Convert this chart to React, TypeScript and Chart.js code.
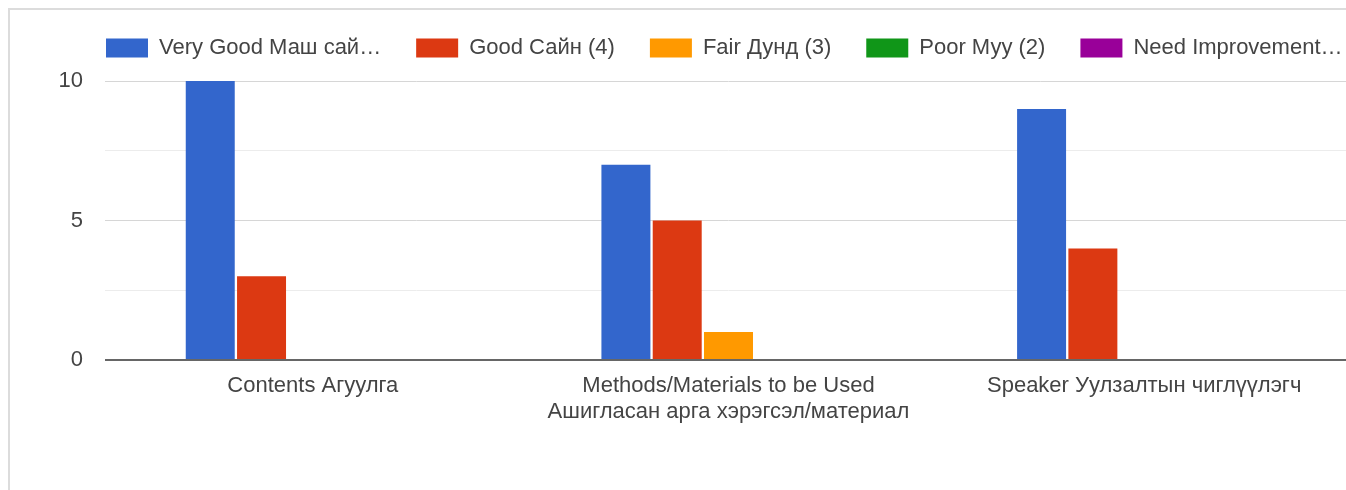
import React, { useEffect, useRef } from "react";
import { Chart, registerables } from "chart.js";

Chart.register(...registerables);

const categories: (string | string[])[] = [
  "Contents Агуулга",
  ["Methods/Materials to be Used", "Ашигласан арга хэрэгсэл/материал"],
  "Speaker Уулзалтын чиглүүлэгч",
];

const seriesLabels = [
  "Very Good Маш сай…",
  "Good Сайн (4)",
  "Fair Дунд (3)",
  "Poor Муу (2)",
  "Need Improvement…",
];

const veryGood = [10, 7, 9];
const good = [3, 5, 4];
const fair = [0, 1, 0];
const poor = [0, 0, 0];
const needImprovement = [0, 0, 0];

const seriesColors = ["#3366cc", "#dc3912", "#ff9900", "#109618", "#990099"];

const yTicks = [0, 5, 10];

const CANVAS_W = 1440;
const CANVAS_H = 490;
const PAD_LEFT = 40;
const LEGEND_PAD = 35;
const LEGEND_START = 106;

const legendShift = {
  id: "legendShift",
  afterLayout(chart: any) {
    const lg = chart.legend;
    if (!lg) return;
    const dx = LEGEND_START - (lg.left + LEGEND_PAD);
    lg.left += dx;
    lg.right += dx;
  },
};

export default function App() {
  const ref = useRef<HTMLCanvasElement | null>(null);

  useEffect(() => {
    if (!ref.current) return;
    const values = [veryGood, good, fair, poor, needImprovement];
    const font = { family: "'Liberation Sans', Arial, sans-serif", size: 22 };
    const chart = new Chart(ref.current, {
      type: "bar",
      data: {
        labels: categories,
        datasets: values.map((v, i) => ({
          label: seriesLabels[i],
          data: v,
          backgroundColor: seriesColors[i],
          borderWidth: 0,
          categoryPercentage: 0.617,
          barPercentage: 0.955,
          xAxisID: "x",
          yAxisID: "y",
        })),
      },
      plugins: [legendShift],
      options: {
        responsive: false,
        animation: false,
        devicePixelRatio: 1,
        layout: { padding: { left: PAD_LEFT, top: 2, right: 0, bottom: 0 } },
        font,
        plugins: {
          tooltip: { enabled: false },
          legend: {
            display: true,
            position: "top",
            align: "start",
            labels: {
              boxWidth: 42,
              boxHeight: 19,
              padding: LEGEND_PAD,
              color: "#444",
              font,
            },
          },
        },
        scales: {
          x: {
            type: "category",
            position: "bottom",
            offset: true,
            grid: { display: false, drawTicks: false },
            border: { display: false },
            ticks: {
              color: "#444",
              padding: 13,
              maxRotation: 0,
              minRotation: 0,
              autoSkip: false,
              font: { ...font, lineHeight: 1.17 },
            },
            afterFit: (s: any) => {
              s.height = 130;
            },
          },
          xTop: {
            type: "linear",
            position: "top",
            display: true,
            grid: { display: false, drawTicks: false },
            border: { display: false },
            ticks: { display: false },
            afterFit: (s: any) => {
              s.height = 12;
            },
          },
          yRight: {
            type: "linear",
            position: "right",
            display: true,
            grid: { display: false, drawTicks: false },
            border: { display: false },
            ticks: { display: false },
            afterFit: (s: any) => {
              s.width = CANVAS_W - 1352;
            },
          },
          y: {
            type: "linear",
            position: "left",
            min: 0,
            max: 10,
            border: { display: false },
            grid: {
              drawTicks: false,
              color: (ctx: any) => {
                const v = ctx.tick ? ctx.tick.value : 0;
                if (v === 0) return "#666";
                if (yTicks.includes(v)) return "#d6d6d6";
                return "#ececec";
              },
              lineWidth: (ctx: any) => (ctx.tick && ctx.tick.value === 0 ? 2 : 1),
            },
            ticks: {
              stepSize: 2.5,
              padding: 22,
              color: "#444",
              font,
              callback: (v: any) => (yTicks.includes(Number(v)) ? String(v) : ""),
            },
            afterFit: (s: any) => {
              s.width = 105 - PAD_LEFT;
            },
          },
        },
      } as any,
    });
    return () => chart.destroy();
  }, []);

  return (
    <div
      style={{
        position: "fixed",
        left: 0,
        top: 0,
        width: 1346,
        height: 490,
        overflow: "hidden",
        background: "#ffffff",
      }}
    >
      <div
        style={{
          position: "absolute",
          left: 8,
          top: 8,
          width: 2000,
          height: 1000,
          borderTop: "2px solid #dcdcdc",
          borderLeft: "2px solid #dcdcdc",
          boxSizing: "border-box",
        }}
      />
      <canvas
        ref={ref}
        width={CANVAS_W}
        height={CANVAS_H}
        style={{ position: "absolute", left: 0, top: 0, width: CANVAS_W, height: CANVAS_H }}
      />
    </div>
  );
}
